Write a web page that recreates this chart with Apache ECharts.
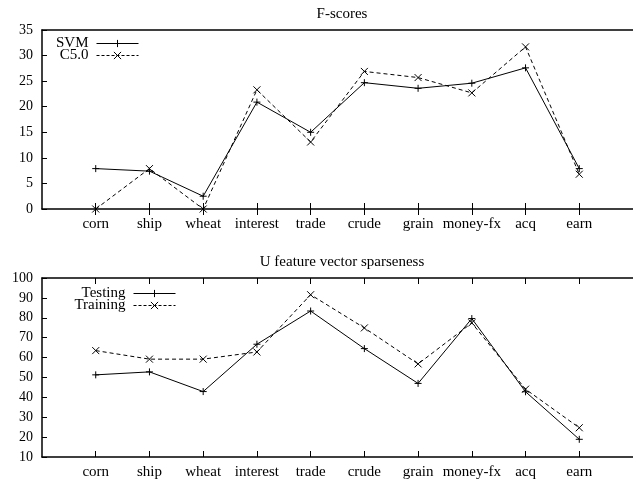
<!DOCTYPE html>
<html>
<head>
<meta charset="utf-8">
<script src="https://cdn.jsdelivr.net/npm/echarts@6/dist/echarts.min.js"></script>
<style>
html,body{margin:0;padding:0;background:#fff;}
#chart{width:633px;height:481px;}
</style>
</head>
<body>
<div id="chart"></div>
<script>
const categories = ['corn','ship','wheat','interest','trade','crude','grain','money-fx','acq','earn'];
const svmScores  = [7.9, 7.4, 2.5, 20.9, 15.0, 24.7, 23.6, 24.6, 27.6, 7.9];
const c50Scores  = [0.0, 7.9, 0.0, 23.3, 13.1, 26.9, 25.7, 22.7, 31.7, 6.8];
const testing    = [51.3, 52.8, 42.9, 66.7, 83.4, 64.5, 47.0, 79.6, 42.8, 18.9];
const training   = [63.5, 59.2, 59.2, 62.8, 91.6, 74.9, 56.8, 77.4, 44.1, 24.7];
const topTitle = 'F-scores';
const bottomTitle = 'U feature vector sparseness';
const topYTicks = {min: 0, max: 35, interval: 5};
const bottomYTicks = {min: 10, max: 100, interval: 10};

const FONT = 'Liberation Serif';
const positions = categories.map((c, i) => i + 1);
const toPairs = vals => vals.map((v, i) => [positions[i], v]);
const PLUS = 'path://M0,5L10,5M5,0L5,10';
const CROSS = 'path://M0,0L10,10M10,0L0,10';
const txt = {fontFamily: FONT, fontSize: 15, color: '#000'};
const ytxt = {fontFamily: FONT, fontSize: 14, color: '#000'};

function xAxis(grid, pos, opts) {
  return Object.assign({
    gridIndex: grid, type: 'value', position: pos, min: 0, max: categories.length + 1,
    splitLine: {show: false},
    axisLine: {show: true, onZero: false, lineStyle: {color: '#000', width: 1.5}},
    axisTick: {show: false},
    axisLabel: {show: false}
  }, opts);
}
const xLabel = {show: true, customValues: positions, margin: 8,
  formatter: v => categories[Math.round(v) - 1] || '', ...txt};
const tickStyle = {color: '#000', width: 1};

const chart = echarts.init(document.getElementById('chart'));
const lineSeries = (name, data, xi, yi, dashed, symbol) => ({
  name, type: 'line', data: toPairs(data), xAxisIndex: xi, yAxisIndex: yi,
  symbol, symbolSize: 7, showSymbol: true,
  lineStyle: {color: '#000', width: 1, type: dashed ? [4, 3] : 'solid'},
  itemStyle: {color: '#000', borderColor: '#000', borderWidth: 1},
  emphasis: {disabled: true}, animation: false
});
const legend = (name, right, top, dashed) => ({
  data: [name], right, top, orient: 'vertical', align: 'right', padding: 0,
  itemWidth: 42, itemHeight: 9,
  lineStyle: {width: 1, color: '#000', type: dashed ? [3, 2] : 'solid'},
  itemStyle: {borderWidth: 1, borderColor: '#000', color: '#000'},
  textStyle: {...txt, lineHeight: 14, padding: [0, 3, 0, 0]}
});

chart.setOption({
  animation: false,
  backgroundColor: '#fff',
  title: [
    {text: topTitle, left: 342, top: 7, textAlign: 'center', padding: 0,
     textStyle: {...txt, fontWeight: 'normal'}},
    {text: bottomTitle, left: 342, top: 255, textAlign: 'center', padding: 0,
     textStyle: {...txt, fontWeight: 'normal'}}
  ],
  legend: [
    legend('SVM', 494, 36, false),
    legend('C5.0', 494, 48, true),
    legend('Testing', 457, 286, false),
    legend('Training', 457, 298, true)
  ],
  grid: [
    {left: 42, top: 30, width: 598, height: 179},
    {left: 42, top: 278, width: 598, height: 179},
    {left: 42, top: 30, width: 598, height: 179}
  ],
  xAxis: [
    xAxis(0, 'bottom', {axisTick: {show: true, inside: true, length: 6, customValues: positions, lineStyle: tickStyle}, axisLabel: xLabel}),
    xAxis(0, 'top', {}),
    xAxis(1, 'bottom', {axisTick: {show: true, inside: true, length: 6, customValues: positions, lineStyle: tickStyle}, axisLabel: xLabel}),
    xAxis(1, 'top', {axisTick: {show: true, inside: true, length: 6, customValues: positions, lineStyle: tickStyle}}),
    xAxis(2, 'bottom', {axisLine: {show: false}, axisTick: {show: true, inside: false, length: 6, customValues: positions, lineStyle: tickStyle}})
  ],
  yAxis: [
    {gridIndex: 0, type: 'value', ...topYTicks, splitLine: {show: false},
     axisLine: {show: true, lineStyle: {color: '#000', width: 1.5}},
     axisTick: {show: true, inside: true, length: 5, lineStyle: tickStyle},
     axisLabel: {margin: 9, ...ytxt}},
    {gridIndex: 1, type: 'value', ...bottomYTicks, splitLine: {show: false},
     axisLine: {show: true, lineStyle: {color: '#000', width: 1.5}},
     axisTick: {show: true, inside: true, length: 5, lineStyle: tickStyle},
     axisLabel: {margin: 9, ...ytxt}},
    {gridIndex: 2, type: 'value', ...topYTicks, show: false}
  ],
  series: [
    lineSeries('SVM', svmScores, 0, 0, false, PLUS),
    lineSeries('C5.0', c50Scores, 0, 0, true, CROSS),
    lineSeries('Testing', testing, 2, 1, false, PLUS),
    lineSeries('Training', training, 2, 1, true, CROSS)
  ]
});
</script>
</body>
</html>
